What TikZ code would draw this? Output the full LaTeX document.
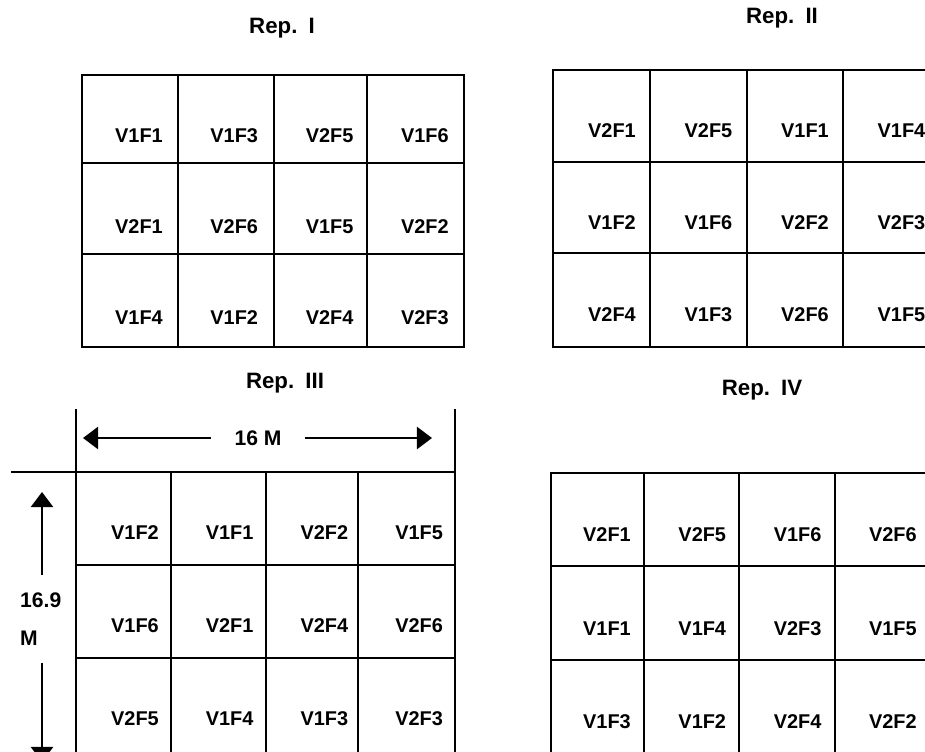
\documentclass[tikz,border=0pt]{standalone}
\usepackage{fontspec}
\setmainfont{Liberation Sans}
\usetikzlibrary{arrows.meta,positioning}
\tikzset{
	plotline/.style={line width=1.9pt, line cap=rect},
	plotlabel/.style={
		anchor=east, inner sep=0pt, text=black,
		font=\bfseries\fontsize{17}{19}\selectfont
	},
	reptitle/.style={inner sep=0pt, font=\bfseries\fontsize{19}{21}\selectfont},
	dimlabel/.style={font=\bfseries\fontsize{18}{20}\selectfont},
	dimarrow/.style={-{Triangle[length=13pt,width=19pt]}, line width=2.2pt}
}

\begin{document}
\begin{tikzpicture}[x=0.03cm,y=-0.03cm]
				\useasboundingbox (0,0) rectangle (925,751);
				% Rep. I
				\node[reptitle] (repI) at (282,28) {Rep.\hspace{.5em}I};
				\draw[plotline] (82,75) rectangle (464,347);
				\foreach \x in {178,274,367} \draw[plotline] (\x,75) -- (\x,347);
				\foreach \y in {163,254} \draw[plotline] (82,\y) -- (464,\y);
				\foreach \lab [count=\i from 0] in {V1F1,V1F3,V2F5,V1F6,V2F1,V2F6,V1F5,V2F2,V1F4,V1F2,V2F4,V2F3} {
					\pgfmathsetmacro\cx{178+95.3*mod(\i,4)-15}
					\pgfmathsetmacro\cy{75+91*floor(\i/4)+61}
					\node[plotlabel] (I-\i) at (\cx,\cy) {\lab};
				}
				% Rep. II
				\node[reptitle] (repII) at (782,18) {Rep.\hspace{.5em}II};
				\draw[plotline] (930,70) -- (553,70) -- (553,347) -- (930,347);
				\foreach \x in {650,747,843} \draw[plotline] (\x,70) -- (\x,347);
				\foreach \y in {162,253} \draw[plotline] (553,\y) -- (930,\y);
				\foreach \lab [count=\i from 0] in {V2F1,V2F5,V1F1,V1F4,V1F2,V1F6,V2F2,V2F3,V2F4,V1F3,V2F6,V1F5} {
					\pgfmathsetmacro\cx{650+96.5*mod(\i,4)-14}
					\pgfmathsetmacro\cy{70+92*floor(\i/4)+61}
					\node[plotlabel] (II-\i) at (\cx,\cy) {\lab};
				}
				% Rep. III
				\node[reptitle] (repIII) at (285,383) {Rep.\hspace{.5em}III};
				\draw[plotline] (76,410) -- (76,760);
				\draw[plotline] (455,410) -- (455,760);
				\draw[plotline] (12,472) -- (455,472);
				\foreach \x in {171,266,358} \draw[plotline] (\x,472) -- (\x,760);
				\foreach \y in {565,658} \draw[plotline] (76,\y) -- (455,\y);
				\foreach \lab [count=\i from 0] in {V1F2,V1F1,V2F2,V1F5,V1F6,V2F1,V2F4,V2F6,V2F5,V1F4,V1F3,V2F3} {
					\pgfmathsetmacro\cx{171+94.7*mod(\i,4)-12}
					\pgfmathsetmacro\cy{472+93*floor(\i/4)+61}
					\node[plotlabel] (III-\i) at (\cx,\cy) {\lab};
				}
				% plot size
				\coordinate (wL) at (83,438);
				\coordinate (wR) at (432,438);
				\node[dimlabel, inner xsep=20pt] (width) at (258,438) {16 M};
				\draw[dimarrow] (width) -- (wL);
				\draw[dimarrow] (width) -- (wR);
				\coordinate (hT) at (42,492);
				\coordinate (hB) at (42,762);
				\node[dimlabel, anchor=west, align=left, inner xsep=0pt, inner ysep=15pt,
					font=\bfseries\fontsize{18}{32}\selectfont] (height) at (20,619) {16.9\\M};
				\draw[dimarrow] (height.north -| hT) -- (hT);
				\draw[dimarrow] (height.south -| hB) -- (hB);
				% Rep. IV
				\node[reptitle] (repIV) at (762,390) {Rep.\hspace{.5em}IV};
				\draw[plotline] (930,473) -- (551,473) -- (551,760);
				\foreach \x in {644,739,835} \draw[plotline] (\x,473) -- (\x,760);
				\foreach \y in {566,660} \draw[plotline] (551,\y) -- (930,\y);
				\foreach \lab [count=\i from 0] in {V2F1,V2F5,V1F6,V2F6,V1F1,V1F4,V2F3,V1F5,V1F3,V1F2,V2F4,V2F2} {
					\pgfmathsetmacro\cx{644+95.3*mod(\i,4)-13}
					\pgfmathsetmacro\cy{473+93.5*floor(\i/4)+62}
					\node[plotlabel] (IV-\i) at (\cx,\cy) {\lab};
				}
			\end{tikzpicture}
\end{document}
